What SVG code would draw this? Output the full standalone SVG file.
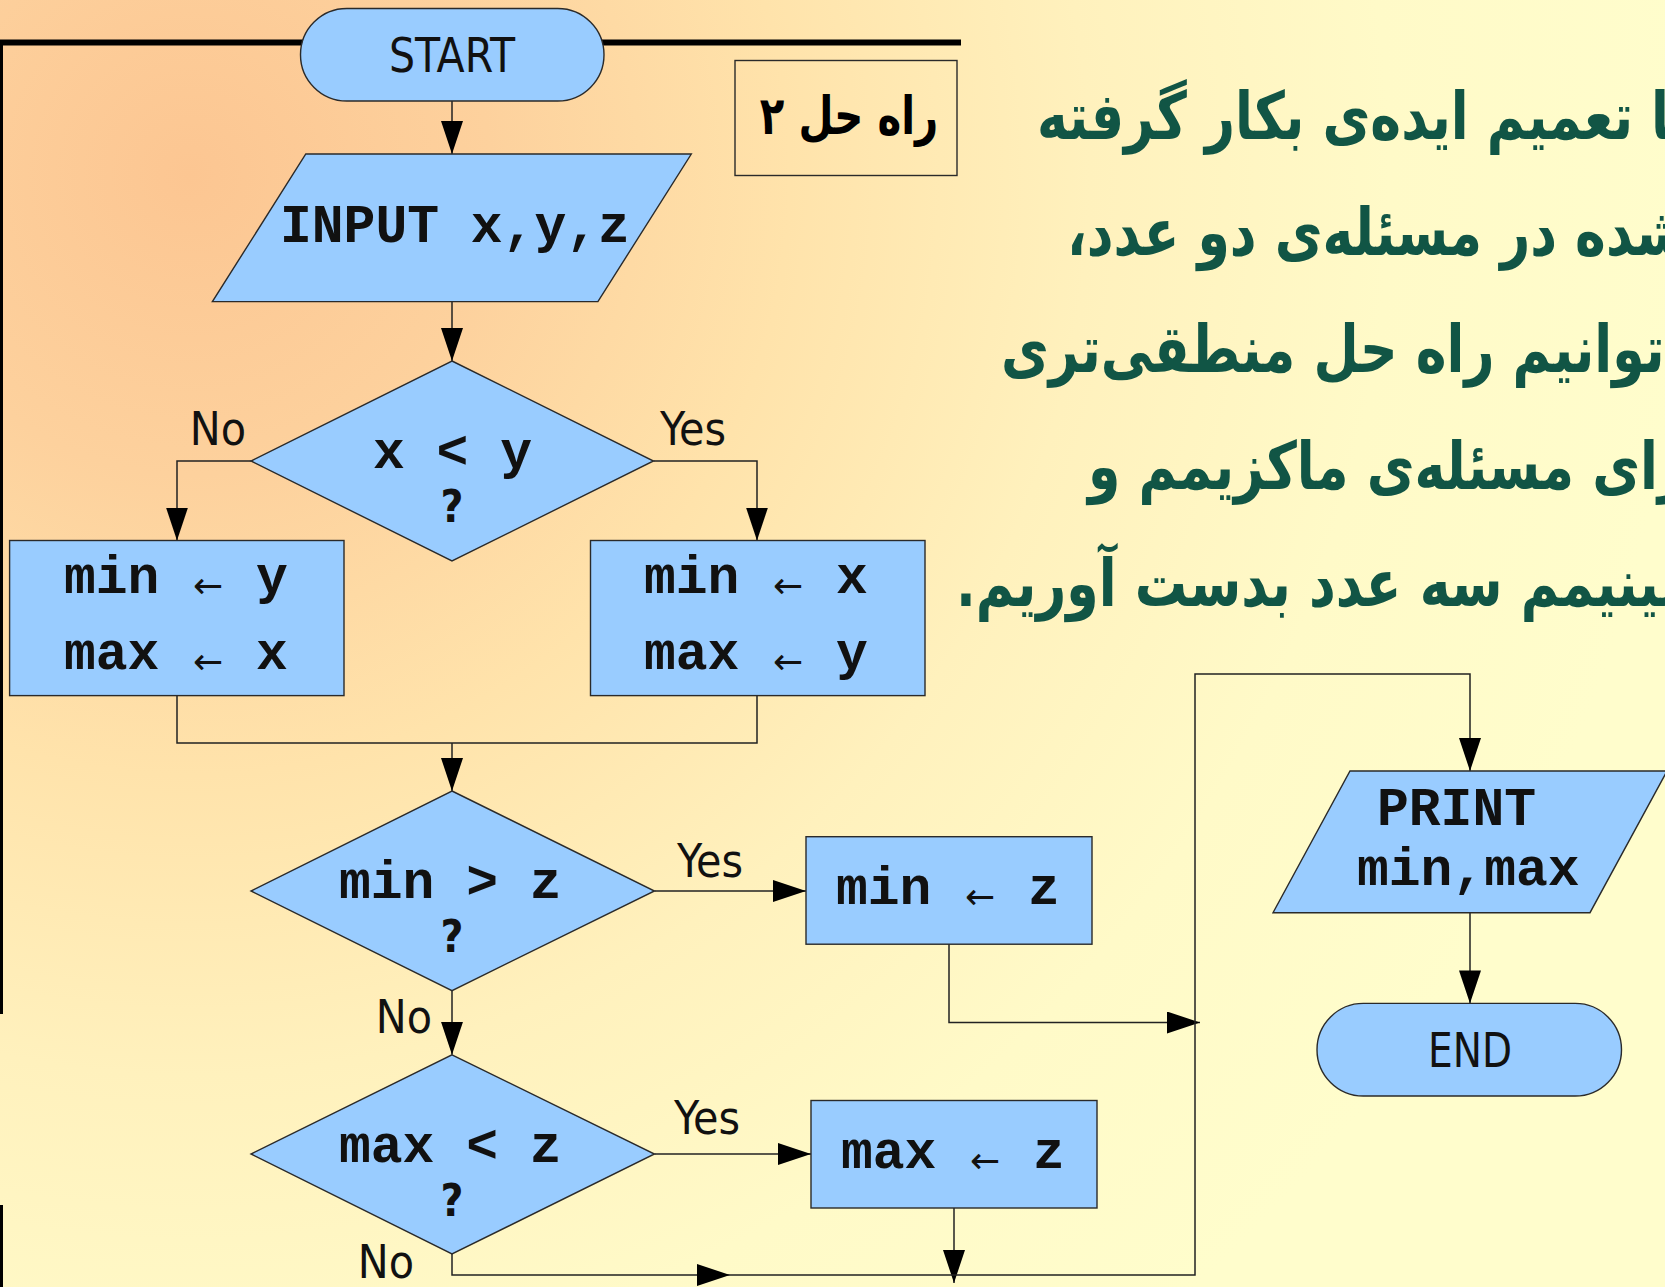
<svg xmlns="http://www.w3.org/2000/svg" width="1665" height="1287" viewBox="0 0 1665 1287">
  <defs>
    <radialGradient id="bg" cx="190" cy="175" r="1500" gradientUnits="userSpaceOnUse">
      <stop offset="0" stop-color="#FCC692"/>
      <stop offset="0.2" stop-color="#FDD19D"/>
      <stop offset="0.4" stop-color="#FFE3AB"/>
      <stop offset="0.6" stop-color="#FFF1BD"/>
      <stop offset="0.8" stop-color="#FFFAC8"/>
      <stop offset="1" stop-color="#FFFDCC"/>
    </radialGradient>
    <marker id="ah" viewBox="0 0 33 22" refX="33" refY="11" markerWidth="33" markerHeight="22" markerUnits="userSpaceOnUse" orient="auto">
      <path d="M0,0 L33,11 L0,22 z" fill="#000"/>
    </marker>
    <style>
      .node { fill: #99CCFF; stroke: #2a2a2a; stroke-width: 1.4; }
      .frame { fill: none; stroke: #2a2a2a; stroke-width: 1.4; }
      .wire { fill: none; stroke: #222; stroke-width: 1.5; }
      .wire.arrow { marker-end: url(#ah); }
      .lbl { font-family: "DejaVu Sans Condensed", "DejaVu Sans", sans-serif; font-size: 46px; fill: #111; text-anchor: middle; }
      .term { font-family: "DejaVu Sans Condensed", "DejaVu Sans", sans-serif; font-size: 48px; fill: #111; text-anchor: middle; }
      .code { font-family: "Liberation Mono", "Courier New", monospace; font-weight: bold; font-size: 53px; fill: #111; }
      .q { font-family: "DejaVu Sans Condensed", "DejaVu Sans", sans-serif; font-weight: bold; font-size: 44px; fill: #111; text-anchor: middle; }
      .arr { font-family: "DejaVu Sans", sans-serif; font-size: 36px; fill: #111; text-anchor: middle; }
      .fa { font-family: "DejaVu Sans", sans-serif; font-weight: bold; direction: rtl; }
      .para { font-size: 66px; fill: #115545; text-anchor: end; }
    </style>
  </defs>

  <!-- background -->
  <rect x="0" y="0" width="1665" height="1287" fill="url(#bg)"/>
  <rect x="0" y="39.5" width="961" height="6" fill="#000"/>
  <rect x="0" y="40" width="3" height="974" fill="#000"/>
  <rect x="0" y="1205" width="3" height="82" fill="#000"/>

  <!-- explanatory paragraph (runs past the right edge) -->
  <g id="paragraph" class="fa para">
    <text transform="translate(1037,139) scale(0.79,1)">با تعمیم ایده‌ی بکار گرفته</text>
    <text transform="translate(1067,255) scale(0.79,1)">شده در مسئله‌ی دو عدد،</text>
    <text transform="translate(1001,372) scale(0.79,1)">می‌توانیم راه حل منطقی‌تری</text>
    <text transform="translate(1088,489) scale(0.79,1)">برای مسئله‌ی ماکزیمم و</text>
    <text transform="translate(956,606) scale(0.79,1)">مینیمم سه عدد بدست آوریم.</text>
  </g>

  <!-- connectors -->
  <g id="connectors">
    <path class="wire arrow" d="M452,101 V154"/>
    <path class="wire arrow" d="M452,301.6 V361"/>
    <path class="wire arrow" d="M251,461 H177 V540.5"/>
    <path class="wire arrow" d="M653.5,461 H757 V540.5"/>
    <path class="wire" d="M177,695.6 V743 H757 V695.6"/>
    <path class="wire arrow" d="M452,743 V791"/>
    <path class="wire arrow" d="M654.5,891 H806"/>
    <path class="wire arrow" d="M452,990.6 V1054.8"/>
    <path class="wire arrow" d="M654.5,1154 H811"/>
    <path class="wire arrow" d="M949,944 V1022.5 H1200"/>
    <path class="wire arrow" d="M954,1208 V1283"/>
    <path class="wire arrow" d="M452,1254 V1275 H730"/>
    <path class="wire arrow" d="M730,1275 H1195 V674 H1470 V771"/>
    <path class="wire arrow" d="M1470,912.7 V1003.4"/>
    <text class="lbl" x="218" y="445">No</text>
    <text class="lbl" x="693" y="445">Yes</text>
    <text class="lbl" x="710" y="877">Yes</text>
    <text class="lbl" x="404" y="1033">No</text>
    <text class="lbl" x="707" y="1134">Yes</text>
    <text class="lbl" x="386" y="1278">No</text>
  </g>

  <!-- solution tag -->
  <g id="tag">
    <rect class="frame" x="735" y="60.5" width="222" height="115"/>
    <text class="fa" transform="translate(849,134) scale(0.76,1)" font-size="53" fill="#000" text-anchor="middle">راه حل ۲</text>
  </g>

  <g id="start">
    <rect class="node" x="300.5" y="8.5" width="303.5" height="92.5" rx="46.25"/>
    <text class="term" x="452" y="72" textLength="126" lengthAdjust="spacingAndGlyphs">START</text>
  </g>

  <g id="input">
    <polygon class="node" points="305.8,154 691.3,154 597.9,301.6 212.4,301.6"/>
    <text class="code" x="280" y="242">INPUT x,y,z</text>
  </g>

  <g id="cmp-xy">
    <polygon class="node" points="452,361 653.5,461 452,561 251,461"/>
    <text class="code" x="373" y="468">x &lt; y</text>
    <text class="q" x="452" y="522">?</text>
  </g>

  <g id="assign-no">
    <rect class="node" x="9.6" y="540.5" width="334.4" height="155.1"/>
    <text class="code" x="64" y="593">min<tspan x="256">y</tspan></text>
    <text class="arr" x="208" y="598">←</text>
    <text class="code" x="64" y="669">max<tspan x="256">x</tspan></text>
    <text class="arr" x="208" y="674">←</text>
  </g>

  <g id="assign-yes">
    <rect class="node" x="590.5" y="540.5" width="334.5" height="155.1"/>
    <text class="code" x="644" y="593">min<tspan x="836">x</tspan></text>
    <text class="arr" x="788" y="598">←</text>
    <text class="code" x="644" y="669">max<tspan x="836">y</tspan></text>
    <text class="arr" x="788" y="674">←</text>
  </g>

  <g id="cmp-min">
    <polygon class="node" points="452,791 654.5,891 452,990.6 251,891"/>
    <text class="code" x="339" y="898">min &gt; z</text>
    <text class="q" x="452" y="952">?</text>
  </g>

  <g id="set-min">
    <rect class="node" x="806" y="836.7" width="286" height="107.5"/>
    <text class="code" x="836" y="904">min<tspan x="1028">z</tspan></text>
    <text class="arr" x="980" y="909">←</text>
  </g>

  <g id="cmp-max">
    <polygon class="node" points="452,1054.8 654.5,1154 452,1254 251,1154"/>
    <text class="code" x="339" y="1162">max &lt; z</text>
    <text class="q" x="452" y="1216">?</text>
  </g>

  <g id="set-max">
    <rect class="node" x="811" y="1100.5" width="286" height="107.5"/>
    <text class="code" x="841" y="1168">max<tspan x="1033">z</tspan></text>
    <text class="arr" x="985" y="1173">←</text>
  </g>

  <g id="print">
    <polygon class="node" points="1350,771 1667,771 1590,912.7 1273,912.7"/>
    <text class="code" x="1377" y="825">PRINT</text>
    <text class="code" x="1357" y="885">min,max</text>
  </g>

  <g id="end">
    <rect class="node" x="1317" y="1003.4" width="304.5" height="92.6" rx="46.3"/>
    <text class="term" x="1470" y="1067" textLength="84" lengthAdjust="spacingAndGlyphs">END</text>
  </g>
</svg>
